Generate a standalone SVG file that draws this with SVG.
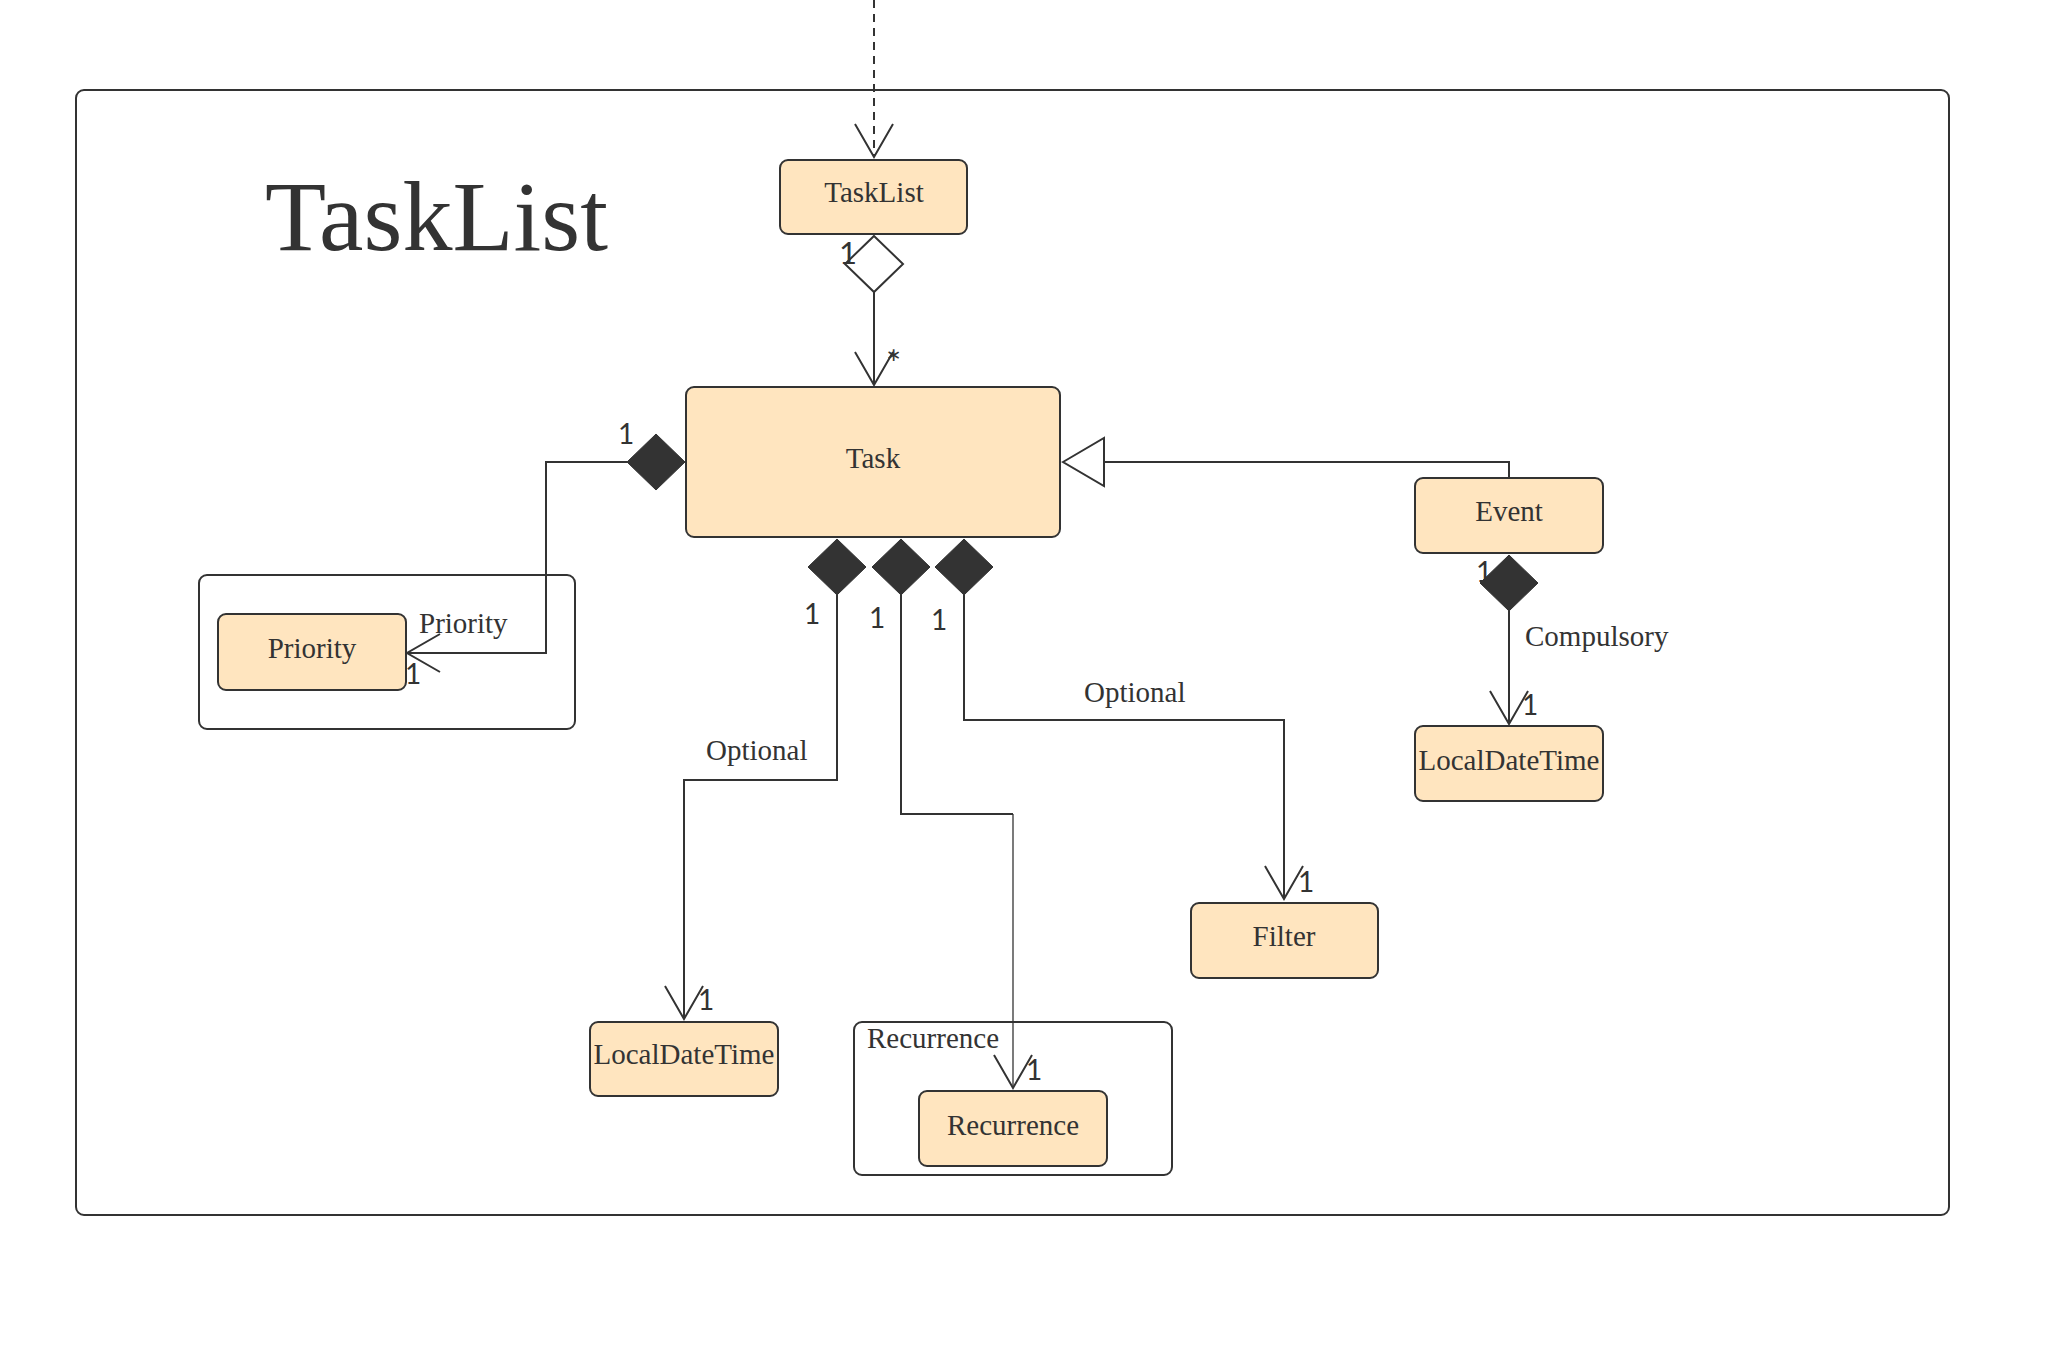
<svg xmlns="http://www.w3.org/2000/svg" xmlns:xlink="http://www.w3.org/1999/xlink" width="2057" height="1367" viewBox="0 0 2057 1367">
<style>
.node rect{fill:#FFE5BF;stroke:#333;stroke-width:2}
.ntext{font-family:"Liberation Serif",serif;font-size:29px;fill:#333;text-anchor:middle}
.box{fill:none;stroke:#333;stroke-width:2}
.conn{fill:none;stroke:#333;stroke-width:2}
.thin{fill:none;stroke:#333;stroke-width:1.3}
.mult{font-family:Lato,"DejaVu Sans",sans-serif;font-size:28px;fill:#333}
.lbl{font-family:"Liberation Serif",serif;font-size:29px;fill:#333}
.fdia{fill:#333;stroke:#333;stroke-width:1}
.hdia{fill:#fff;stroke:#333;stroke-width:2}
</style>
<defs>
<marker id="open" markerUnits="userSpaceOnUse" viewBox="-36 -22 40 44" refX="0" refY="0" markerWidth="40" markerHeight="44" orient="auto" overflow="visible">
<path d="M-33,-19 L0,0 L-33,19" fill="none" stroke="#333" stroke-width="2"/>
</marker>
<path id="dia" d="M0,-28 L29,0 L0,28 L-29,0Z"/>
</defs>
<rect width="2057" height="1367" fill="#fff"/>
<g id="frame">
<rect class="box" x="76" y="90" width="1873" height="1125" rx="8"/>
<text x="265" y="250" style="font-family:'Liberation Serif',serif;font-size:100px;fill:#333">TaskList</text>
</g>
<g id="priority-group"><rect class="box" x="199" y="575" width="376" height="154" rx="8"/></g>
<g id="recurrence-group"><rect class="box" x="854" y="1022" width="318" height="153" rx="8"/><text class="lbl" x="867" y="1048">Recurrence</text></g>
<g id="connectors">
<path class="conn" d="M874,0 V157" stroke-dasharray="8 6" marker-end="url(#open)"/>
<path class="conn" d="M874,292 V385" marker-end="url(#open)"/>
<use xlink:href="#dia" x="874" y="264" class="hdia"/>
<text class="mult" x="839" y="264" style="font-size:31px">1</text>
<text class="mult" x="886" y="377" style="font-size:36px">*</text>
<path class="conn" d="M627,462 H546 V653 H407" marker-end="url(#open)"/>
<use xlink:href="#dia" x="656" y="462" class="fdia"/>
<text class="mult" x="618" y="444">1</text>
<text class="lbl" x="419" y="633">Priority</text>
<text class="mult" x="405" y="684">1</text>
<path class="conn" d="M1509,478 V462 H1104"/>
<polygon class="hdia" points="1063,462 1104,438 1104,486"/>
<text class="mult" x="1476" y="582">1</text>
<path class="conn" d="M1509,611 V724" marker-end="url(#open)"/>
<use xlink:href="#dia" x="1509" y="583" class="fdia"/>
<text class="lbl" x="1525" y="646">Compulsory</text>
<text class="mult" x="1522" y="715">1</text>
<use xlink:href="#dia" x="837" y="567" class="fdia"/>
<use xlink:href="#dia" x="901" y="567" class="fdia"/>
<use xlink:href="#dia" x="964" y="567" class="fdia"/>
<path class="conn" d="M837,595 V780 H684 V1019" marker-end="url(#open)"/>
<text class="mult" x="804" y="624">1</text>
<text class="lbl" x="706" y="760">Optional</text>
<text class="mult" x="698" y="1010">1</text>
<path class="conn" d="M901,595 V814 H1013"/>
<path class="thin" d="M1013,814 V1088" marker-end="url(#open)"/>
<text class="mult" x="869" y="628">1</text>
<text class="mult" x="1026" y="1080">1</text>
<path class="conn" d="M964,595 V720 H1284 V899" marker-end="url(#open)"/>
<text class="mult" x="931" y="630">1</text>
<text class="lbl" x="1084" y="702">Optional</text>
<text class="mult" x="1298" y="892">1</text>
</g>
<g id="TaskList" class="node"><rect x="780" y="160" width="187" height="74" rx="8"/><text class="ntext" x="874" y="202">TaskList</text></g>
<g id="Task" class="node"><rect x="686" y="387" width="374" height="150" rx="8"/><text class="ntext" x="873" y="468">Task</text></g>
<g id="Priority" class="node"><rect x="218" y="614" width="188" height="76" rx="8"/><text class="ntext" x="312" y="658">Priority</text></g>
<g id="Event" class="node"><rect x="1415" y="478" width="188" height="75" rx="8"/><text class="ntext" x="1509" y="521">Event</text></g>
<g id="LocalDateTimeEvent" class="node"><rect x="1415" y="726" width="188" height="75" rx="8"/><text class="ntext" x="1509" y="770">LocalDateTime</text></g>
<g id="LocalDateTimeTask" class="node"><rect x="590" y="1022" width="188" height="74" rx="8"/><text class="ntext" x="684" y="1064">LocalDateTime</text></g>
<g id="Filter" class="node"><rect x="1191" y="903" width="187" height="75" rx="8"/><text class="ntext" x="1284" y="946">Filter</text></g>
<g id="Recurrence" class="node"><rect x="919" y="1091" width="188" height="75" rx="8"/><text class="ntext" x="1013" y="1135">Recurrence</text></g>
</svg>
